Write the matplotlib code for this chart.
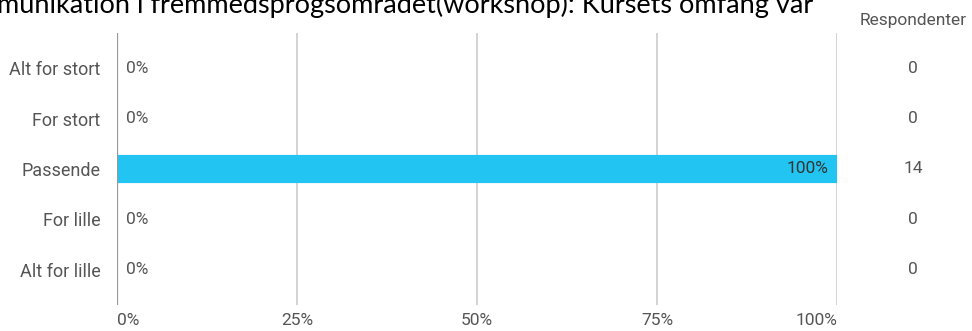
import matplotlib
matplotlib.use('Agg')
import matplotlib.pyplot as plt

categories = ['Alt for stort', 'For stort', 'Passende', 'For lille', 'Alt for lille']
percents = [0, 0, 100, 0, 0]
counts = [0, 0, 14, 0, 0]
xticks = [0, 25, 50, 75, 100]
title = 'munikation i fremmedsprogsområdet(workshop): Kursets omfang var'


def main():
    """Draw the chart."""
    plt.rcParams['font.family'] = ['Roboto', 'DejaVu Sans']
    fig = plt.figure(figsize=(9.72, 3.31), dpi=100)
    ax = fig.add_axes([117 / 972, 26 / 331, 720 / 972, 272 / 331])

    y = list(range(len(categories)))
    widths = [3 if p > 0 else 0 for p in percents]
    ax.barh(y, percents, height=0.47, color='#22c4f2', edgecolor='#22c4f2',
            linewidth=widths, joinstyle='round', zorder=2)

    for yi, p, c in zip(y, percents, counts):
        if p > 0:
            ax.text(p - 1.2, yi, f'{p}%', ha='right', va='center',
                    fontsize=12.5, color='#333333', zorder=3)
        else:
            ax.text(1.2, yi, f'{p}%', ha='left', va='center',
                    fontsize=12.5, color='#555555', zorder=3)
        ax.text(110.6, yi, str(c), ha='center', va='center',
                fontsize=12.5, color='#555555')

    ax.text(110.6, -0.95, 'Respondenter', ha='center', va='center',
            fontsize=12.5, color='#555555')

    ax.set_xlim(0, 100)
    ax.set_ylim(len(categories) - 0.3, -0.7)
    ax.set_yticks(y)
    ax.set_yticklabels(categories, fontsize=13, color='#555555')
    ax.set_xticks(xticks)
    ax.set_xticklabels([f'{t}%' for t in xticks], fontsize=12.5, color='#555555')
    labels = ax.get_xticklabels()
    labels[0].set_ha('left')
    labels[-1].set_ha('right')
    ax.tick_params(axis='both', length=0)
    ax.tick_params(axis='y', pad=12)
    ax.tick_params(axis='x', pad=6)

    for t in xticks[1:]:
        ax.axvline(t, color='#cccccc', linewidth=1.2, zorder=1)
    ax.axvline(0, color='#999999', linewidth=1.6, zorder=4)
    for s in ax.spines.values():
        s.set_visible(False)

    fig.text(-3 / 972, 1 - 13 / 331, title, ha='left', va='baseline',
             fontsize=19.5, family=['Lato', 'DejaVu Sans'], color='#000000')

    fig.savefig('out.png', dpi=100)


if __name__ == '__main__':
    main()
